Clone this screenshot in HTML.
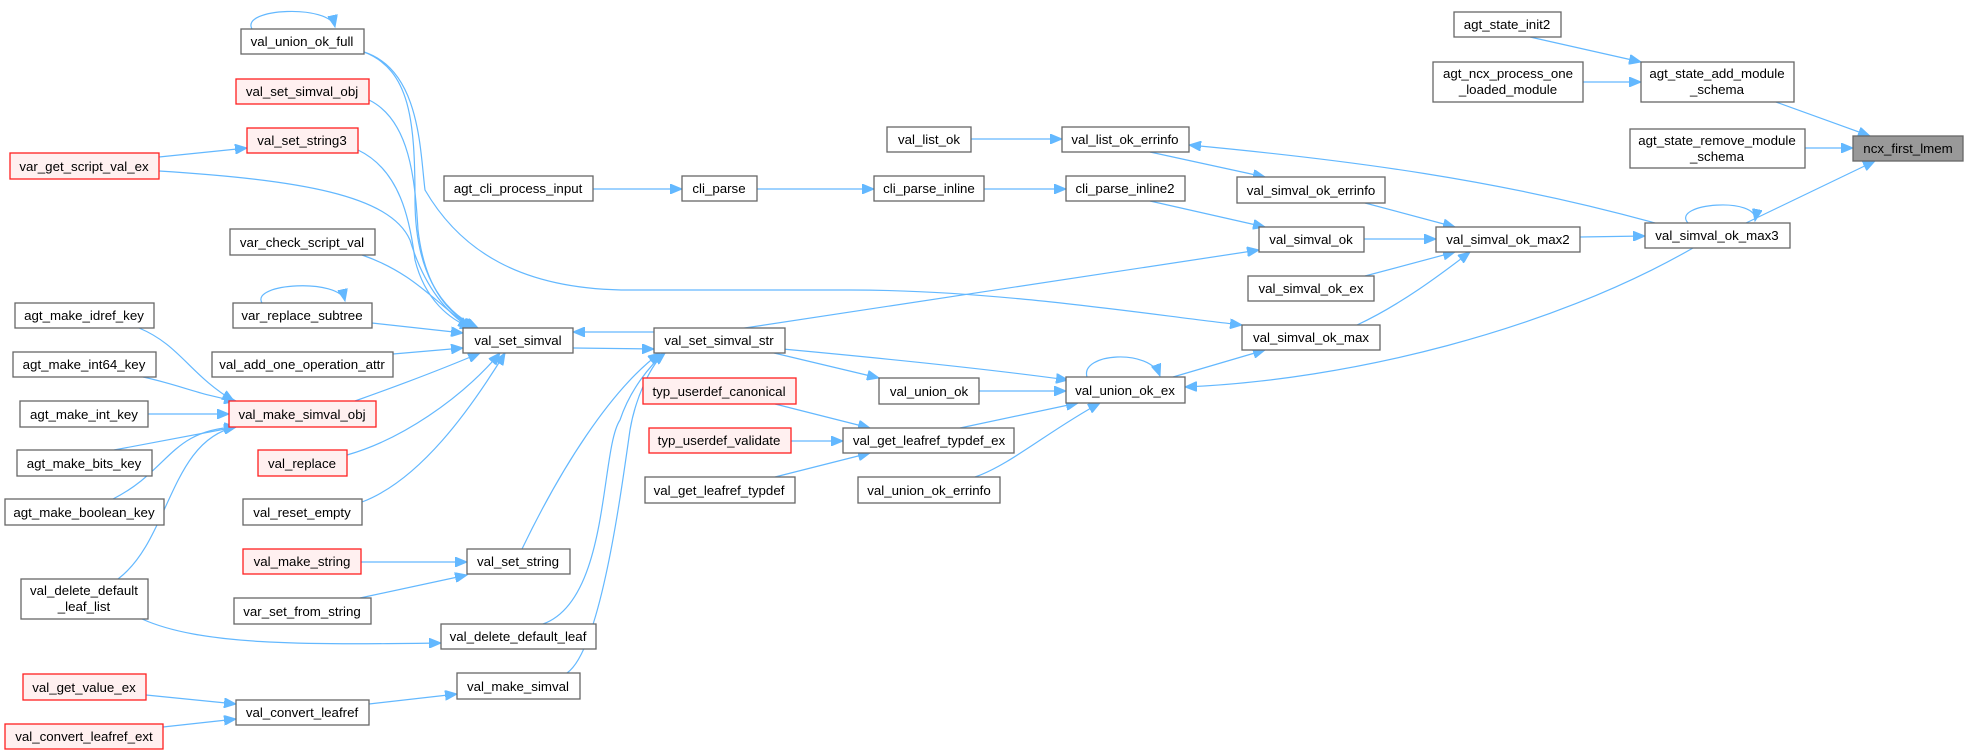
<!DOCTYPE html>
<html><head><meta charset="utf-8"><style>
html,body{margin:0;padding:0;background:#fff;}
svg{display:block;}
text{font-family:"Liberation Sans",Arial,sans-serif;font-size:13.3px;fill:#000;text-anchor:middle;}
.n{fill:#fff;stroke:#666;stroke-width:1.3;}
.r{fill:#fff0f0;stroke:#ff2020;stroke-width:1.3;}
.g{fill:#999;stroke:#666;stroke-width:1.3;}
path.e{fill:none;stroke:#63b8ff;stroke-width:1.2;marker-end:url(#a);}
</style></head><body>
<svg width="1969" height="755" viewBox="0 0 1969 755" xmlns="http://www.w3.org/2000/svg">
<defs><marker id="a" markerUnits="userSpaceOnUse" markerWidth="14" markerHeight="10" refX="12" refY="5" orient="auto"><path d="M0,0 L12,5 L0,10 z" fill="#63b8ff" stroke="#63b8ff"/></marker></defs>

<!-- edges -->
<path class="e" d="M1530,37 L1641,62"/>
<path class="e" d="M1583,82 L1641,82"/>
<path class="e" d="M1776,102 L1870,136"/>
<path class="e" d="M1805,148 L1853,148"/>
<path class="e" d="M1746,223 L1875,161"/>
<path class="e" d="M1688,223 C1670,203 1760,196 1755,221"/>
<path class="e" d="M971,139 L1062,139"/>
<path class="e" d="M1150,152 L1265,177"/>
<path class="e" d="M1655,223 C1500,180 1350,160 1189,145"/>
<path class="e" d="M1365,203 L1455,227"/>
<path class="e" d="M1364,239 L1436,239"/>
<path class="e" d="M1580,237 L1645,236"/>
<path class="e" d="M1365,276 L1455,252"/>
<path class="e" d="M1357,325 C1400,305 1440,275 1470,252"/>
<path class="e" d="M1693,248 C1550,330 1350,380 1185,387"/>
<path class="e" d="M1150,201 L1265,227"/>
<path class="e" d="M984,189 L1066,189"/>
<path class="e" d="M757,189 L874,189"/>
<path class="e" d="M593,189 L682,189"/>
<path class="e" d="M738,329 L1259,250"/>
<path class="e" d="M364,52 C420,70 420,150 425,190 C460,250 520,290 630,290 L850,290 C1000,290 1150,315 1242,325"/>
<path class="e" d="M252,29 C240,8 330,4 335,27"/>
<path class="e" d="M364,52 C410,70 415,120 415,200 C415,270 440,310 478,328"/>
<path class="e" d="M369,100 C410,120 415,180 418,230 C425,290 450,315 476,328"/>
<path class="e" d="M358,150 C400,170 410,220 415,260 C425,300 450,320 472,328"/>
<path class="e" d="M159,157 L247,148"/>
<path class="e" d="M159,171 C300,180 390,195 410,240 C425,290 450,315 470,328"/>
<path class="e" d="M362,255 C420,275 440,310 474,328"/>
<path class="e" d="M262,303 C250,283 340,278 345,301"/>
<path class="e" d="M372,323 L463,333"/>
<path class="e" d="M393,354 L463,348"/>
<path class="e" d="M355,401 C400,385 440,370 480,353"/>
<path class="e" d="M347,455 C400,440 460,400 500,353"/>
<path class="e" d="M362,502 C420,480 470,410 505,353"/>
<path class="e" d="M573,348 L654,349"/>
<path class="e" d="M654,332 L573,332"/>
<path class="e" d="M522,549 C560,470 610,390 660,353"/>
<path class="e" d="M543,624 C610,600 600,450 620,420 C630,390 650,365 665,353"/>
<path class="e" d="M567,673 C600,650 620,500 630,430 C635,400 650,365 665,353"/>
<path class="e" d="M774,353 L879,378"/>
<path class="e" d="M738,345 C850,355 980,368 1068,380"/>
<path class="e" d="M979,391 L1066,391"/>
<path class="e" d="M1087,377 C1080,353 1150,348 1160,376"/>
<path class="e" d="M1173,377 L1265,350"/>
<path class="e" d="M960,428 L1078,403"/>
<path class="e" d="M975,477 C1010,465 1050,430 1100,403"/>
<path class="e" d="M775,404 L870,428"/>
<path class="e" d="M791,441 L843,441"/>
<path class="e" d="M775,477 L870,453"/>
<path class="e" d="M139,328 C180,345 190,375 234,401"/>
<path class="e" d="M143,377 C180,385 200,395 236,401"/>
<path class="e" d="M148,414 L229,414"/>
<path class="e" d="M114,450 L236,427"/>
<path class="e" d="M113,499 C170,470 170,430 236,427"/>
<path class="e" d="M118,579 C170,540 170,440 236,427"/>
<path class="e" d="M142,619 C200,645 300,645 441,643"/>
<path class="e" d="M361,562 L467,562"/>
<path class="e" d="M360,598 L467,575"/>
<path class="e" d="M146,695 L236,704"/>
<path class="e" d="M163,727 L236,719"/>
<path class="e" d="M369,704 L457,694"/>

<!-- nodes -->
<rect class="n" x="241" y="29" width="123" height="25"/><text x="302" y="46">val_union_ok_full</text>
<rect class="r" x="236" y="79" width="133" height="25"/><text x="302" y="96">val_set_simval_obj</text>
<rect class="r" x="247" y="128" width="111" height="25"/><text x="302" y="145">val_set_string3</text>
<rect class="r" x="10" y="153" width="149" height="26"/><text x="84" y="171">var_get_script_val_ex</text>
<rect class="n" x="444" y="176" width="149" height="25"/><text x="518" y="193">agt_cli_process_input</text>
<rect class="n" x="682" y="176" width="75" height="25"/><text x="719" y="193">cli_parse</text>
<rect class="n" x="874" y="176" width="110" height="25"/><text x="929" y="193">cli_parse_inline</text>
<rect class="n" x="1066" y="176" width="119" height="25"/><text x="1125" y="193">cli_parse_inline2</text>
<rect class="n" x="230" y="229" width="145" height="26"/><text x="302" y="247">var_check_script_val</text>
<rect class="n" x="233" y="303" width="139" height="25"/><text x="302" y="320">var_replace_subtree</text>
<rect class="n" x="15" y="303" width="139" height="25"/><text x="84" y="320">agt_make_idref_key</text>
<rect class="n" x="463" y="328" width="110" height="25"/><text x="518" y="345">val_set_simval</text>
<rect class="n" x="654" y="328" width="131" height="25"/><text x="719" y="345">val_set_simval_str</text>
<rect class="n" x="13" y="352" width="143" height="25"/><text x="84" y="369">agt_make_int64_key</text>
<rect class="n" x="212" y="352" width="181" height="25"/><text x="302" y="369">val_add_one_operation_attr</text>
<rect class="n" x="20" y="401" width="128" height="26"/><text x="84" y="419">agt_make_int_key</text>
<rect class="r" x="229" y="401" width="147" height="26"/><text x="302" y="419">val_make_simval_obj</text>
<rect class="n" x="17" y="450" width="135" height="26"/><text x="84" y="468">agt_make_bits_key</text>
<rect class="r" x="258" y="450" width="89" height="26"/><text x="302" y="468">val_replace</text>
<rect class="n" x="5" y="499" width="159" height="26"/><text x="84" y="517">agt_make_boolean_key</text>
<rect class="n" x="243" y="499" width="119" height="26"/><text x="302" y="517">val_reset_empty</text>
<rect class="r" x="243" y="549" width="118" height="25"/><text x="302" y="566">val_make_string</text>
<rect class="n" x="467" y="549" width="103" height="25"/><text x="518" y="566">val_set_string</text>
<rect class="n" x="21" y="579" width="127" height="40"/><text x="84" y="595">val_delete_default</text><text x="84" y="611">_leaf_list</text>
<rect class="n" x="234" y="598" width="137" height="26"/><text x="302" y="616">var_set_from_string</text>
<rect class="n" x="441" y="624" width="155" height="25"/><text x="518" y="641">val_delete_default_leaf</text>
<rect class="n" x="457" y="673" width="123" height="26"/><text x="518" y="691">val_make_simval</text>
<rect class="r" x="23" y="674" width="123" height="26"/><text x="84" y="692">val_get_value_ex</text>
<rect class="n" x="236" y="700" width="133" height="25"/><text x="302" y="717">val_convert_leafref</text>
<rect class="r" x="5" y="724" width="158" height="25"/><text x="84" y="741">val_convert_leafref_ext</text>

<rect class="n" x="887" y="127" width="84" height="25"/><text x="929" y="144">val_list_ok</text>
<rect class="n" x="1062" y="127" width="127" height="25"/><text x="1125" y="144">val_list_ok_errinfo</text>
<rect class="r" x="643" y="378" width="153" height="26"/><text x="719" y="396">typ_userdef_canonical</text>
<rect class="n" x="879" y="378" width="100" height="26"/><text x="929" y="396">val_union_ok</text>
<rect class="n" x="1066" y="377" width="119" height="26"/><text x="1125" y="395">val_union_ok_ex</text>
<rect class="r" x="649" y="428" width="142" height="25"/><text x="719" y="445">typ_userdef_validate</text>
<rect class="n" x="843" y="428" width="171" height="25"/><text x="929" y="445">val_get_leafref_typdef_ex</text>
<rect class="n" x="645" y="477" width="150" height="26"/><text x="719" y="495">val_get_leafref_typdef</text>
<rect class="n" x="858" y="477" width="142" height="26"/><text x="929" y="495">val_union_ok_errinfo</text>

<rect class="n" x="1237" y="177" width="148" height="26"/><text x="1311" y="195">val_simval_ok_errinfo</text>
<rect class="n" x="1259" y="227" width="105" height="25"/><text x="1311" y="244">val_simval_ok</text>
<rect class="n" x="1436" y="227" width="144" height="25"/><text x="1508" y="244">val_simval_ok_max2</text>
<rect class="n" x="1248" y="276" width="126" height="25"/><text x="1311" y="293">val_simval_ok_ex</text>
<rect class="n" x="1242" y="325" width="138" height="25"/><text x="1311" y="342">val_simval_ok_max</text>
<rect class="n" x="1645" y="223" width="145" height="25"/><text x="1717" y="240">val_simval_ok_max3</text>

<rect class="n" x="1454" y="12" width="107" height="25"/><text x="1507" y="29">agt_state_init2</text>
<rect class="n" x="1433" y="62" width="150" height="40"/><text x="1508" y="78">agt_ncx_process_one</text><text x="1508" y="94">_loaded_module</text>
<rect class="n" x="1641" y="62" width="153" height="40"/><text x="1717" y="78">agt_state_add_module</text><text x="1717" y="94">_schema</text>
<rect class="n" x="1630" y="129" width="175" height="39"/><text x="1717" y="145">agt_state_remove_module</text><text x="1717" y="161">_schema</text>
<rect class="g" x="1853" y="136" width="110" height="25"/><text x="1908" y="153">ncx_first_lmem</text>
</svg>
</body></html>
